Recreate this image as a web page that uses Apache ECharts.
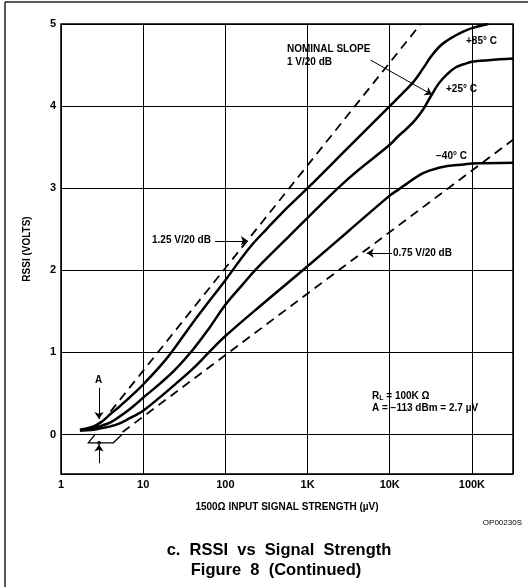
<!DOCTYPE html>
<html>
<head>
<meta charset="utf-8">
<script src="https://cdn.jsdelivr.net/npm/echarts@6/dist/echarts.min.js"></script>
<style>
html,body{margin:0;padding:0;background:#fff}
#chart{width:528px;height:587px}
</style>
</head>
<body>
<div id="chart"></div>
<script>
var FONT = '"Liberation Sans", Arial, Helvetica, sans-serif';

// x = input signal (uV), y = RSSI (V)
var curve85 = [[1.7,0.06],[2.5,0.1],[3.16,0.16],[4,0.25],[5,0.33],[6.3,0.42],[7.9,0.51],[10,0.61],[16,0.83],[22,1.0],[40,1.36],[63,1.62],[100,1.88],[160,2.16],[219,2.33],[316,2.5],[500,2.71],[1000,3.0],[3162,3.5],[10000,4.0],[12589,4.1],[15849,4.2],[19953,4.31],[25119,4.45],[31623,4.6],[39811,4.72],[50119,4.8],[63096,4.86],[79433,4.91],[100000,4.95],[158489,5.0]];
var curve25 = [[1.7,0.05],[2.5,0.08],[3.16,0.11],[4,0.15],[5,0.21],[6.3,0.28],[7.9,0.36],[10,0.45],[16,0.62],[25,0.8],[40,1.03],[63,1.29],[100,1.58],[160,1.82],[240,2.02],[500,2.34],[1000,2.64],[3162,3.12],[10000,3.53],[12589,3.63],[15849,3.72],[19953,3.82],[25119,3.95],[31623,4.12],[39811,4.28],[50119,4.39],[63096,4.47],[79433,4.51],[100000,4.54],[158489,4.56],[316228,4.58]];
var curveM40 = [[1.7,0.05],[2.5,0.06],[3.16,0.08],[4,0.1],[5,0.13],[6.3,0.18],[7.9,0.23],[10,0.29],[15.8,0.45],[25,0.62],[40,0.8],[63,1.0],[100,1.2],[316,1.63],[1000,2.05],[3162,2.48],[10000,2.91],[12589,2.98],[15849,3.05],[19953,3.12],[25119,3.18],[31623,3.22],[50119,3.27],[79433,3.29],[100000,3.3],[316228,3.31]];
var slopeHigh = [[4,0.28],[23800,5.0]];      // 1.25 V/20 dB
var slopeLow = [[5.6,0.03],[316228,3.59]];   // 0.75 V/20 dB

var xTickLabels = ['1','10','100','1K','10K','100K'];
var yTickLabels = ['0','1','2','3','4','5'];

// annotation arrows [from, to]
var arrows = [
  [[5860,4.56],[32600,4.14]],   // nominal slope
  [[75,2.36],[188,2.36]],       // 1.25 V/20 dB
  [[10700,2.21],[5250,2.21]],   // 0.75 V/20 dB
  [[2.9,0.57],[2.9,0.19]],      // A down
  [[2.9,-0.35],[2.9,-0.12]]     // A up
];
var bracket = [[2.59,0],[2.15,-0.1],[4.33,-0.1],[5.52,0]];

var chart = echarts.init(document.getElementById('chart'));

function txt(left, y, s, opt) {
  opt = opt || {};
  return {
    type: 'text', left: left, top: y - (opt.size || 10) / 2 - 1,
    style: {
      text: s, fill: '#000', font: (opt.weight || 'bold') + ' ' + (opt.size || 10) + 'px ' + FONT
    }
  };
}
function ctxt(x, y, s, font) {
  return {type: 'text', x: x, y: y, style: {text: s, fill: '#000', font: font, align: 'center', verticalAlign: 'middle'}};
}

var solid = {color: '#000', width: 2.5};
var dashed = {color: '#000', width: 1.8, type: [9, 6]};

var option = {
  animation: false,
  backgroundColor: '#fff',
  grid: {left: 61, top: 24, right: 15, bottom: 113, show: true, borderColor: '#000', borderWidth: 1.5},
  xAxis: {
    type: 'log', logBase: 10, min: 1, max: 316228,
    name: '1500\u03A9 INPUT SIGNAL STRENGTH (\u00B5V)',
    nameLocation: 'middle', nameGap: 28,
    nameTextStyle: {fontFamily: FONT, fontWeight: 'bold', fontSize: 10, color: '#000'},
    axisLine: {show: false},
    axisTick: {show: false},
    axisLabel: {
      margin: 5, color: '#000', fontFamily: FONT, fontWeight: 'bold', fontSize: 11,
      formatter: function (v) {
        var l = Math.log10(v), e = Math.round(l);
        return Math.abs(l - e) < 1e-6 && xTickLabels[e] ? xTickLabels[e] : '';
      }
    },
    splitLine: {show: true, lineStyle: {color: '#000', width: 1}}
  },
  yAxis: {
    type: 'value', min: -0.48, max: 5, splitNumber: 5,
    name: 'RSSI (VOLTS)', nameLocation: 'middle', nameGap: 29, nameRotate: 90,
    nameTextStyle: {fontFamily: FONT, fontWeight: 'bold', fontSize: 10, color: '#000'},
    axisLine: {show: false},
    axisTick: {show: false},
    axisLabel: {
      margin: 5, color: '#000', fontFamily: FONT, fontWeight: 'bold', fontSize: 11,
      formatter: function (v) {
        var i = Math.round(v);
        return Math.abs(v - i) < 1e-6 && yTickLabels[i] ? yTickLabels[i] : '';
      }
    },
    splitLine: {show: true, lineStyle: {color: '#000', width: 1}}
  },
  series: [
    {name: '+85', type: 'line', data: curve85, smooth: 0.4, showSymbol: false, lineStyle: solid},
    {name: '+25', type: 'line', data: curve25, smooth: 0.4, showSymbol: false, lineStyle: solid},
    {name: '-40', type: 'line', data: curveM40, smooth: 0.4, showSymbol: false, lineStyle: solid},
    {name: '1.25', type: 'line', data: slopeHigh, showSymbol: false, lineStyle: dashed},
    {name: '0.75', type: 'line', data: slopeLow, showSymbol: false, lineStyle: dashed},
    {
      type: 'lines', coordinateSystem: 'cartesian2d', symbol: ['none', 'arrow'], symbolSize: 7,
      lineStyle: {color: '#000', width: 1, opacity: 1},
      data: arrows.map(function (a) { return {coords: a}; })
    },
    {
      type: 'lines', coordinateSystem: 'cartesian2d', polyline: true, symbol: 'none',
      lineStyle: {color: '#000', width: 1.3, opacity: 1},
      data: [{coords: bracket}]
    },
    {type: 'scatter', data: [[2.9, -0.1]], symbolSize: 4, itemStyle: {color: '#000'}}
  ],
  graphic: [
    {type: 'line', shape: {x1: 5, y1: 2, x2: 5, y2: 587}, style: {stroke: '#222', lineWidth: 1.5}},
    {type: 'line', shape: {x1: 5, y1: 2, x2: 528, y2: 2}, style: {stroke: '#222', lineWidth: 1.5}},
    txt(287, 50, 'NOMINAL SLOPE'),
    txt(287, 63, '1 V/20 dB'),
    txt(466, 42, '+85\u00B0 C'),
    txt(446, 90, '+25\u00B0 C'),
    txt(436, 157, '\u221240\u00B0 C'),
    txt(152, 241, '1.25 V/20 dB'),
    txt(393, 254, '0.75 V/20 dB'),
    {
      type: 'text', left: 372, top: 391,
      style: {
        text: '{a|R}{s|L}{a| = 100K \u03A9}',
        rich: {
          a: {font: 'bold 10px ' + FONT, fill: '#000'},
          s: {font: 'bold 7px ' + FONT, fill: '#000', padding: [5, 0, 0, 0]}
        }
      }
    },
    txt(372, 409, 'A = \u2212113 dBm = 2.7 \u00B5V'),
    txt(95, 381, 'A'),
    {type: 'text', right: 6, top: 519, style: {text: 'OP00230S', fill: '#000', font: '8px ' + FONT}},
    ctxt(279, 550, 'c.  RSSI  vs  Signal  Strength', 'bold 16.5px ' + FONT),
    ctxt(276, 570, 'Figure  8  (Continued)', 'bold 16.5px ' + FONT)
  ]
};

chart.setOption(option);
</script>
</body>
</html>
